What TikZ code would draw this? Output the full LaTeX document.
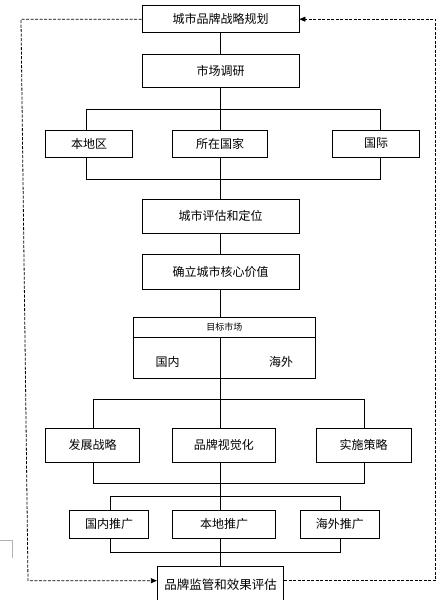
\documentclass[tikz,border=0pt]{standalone}
\usepackage{fontspec}
\setmainfont{Noto Sans CJK SC}
\usetikzlibrary{arrows.meta}
\begin{document}
\begin{tikzpicture}[x=1pt,y=-1pt,
  ln/.style={line width=0.8pt, draw=black},
  box/.style n args={2}{draw=black, line width=0.8pt, fill=white, inner sep=0pt,
    minimum width=#1pt, minimum height=#2pt, font=\fontsize{12}{14}\selectfont},
  lbl/.style={inner sep=0pt, font=\fontsize{12}{14}\selectfont},
  dsh/.style={line width=0.8pt, dash pattern=on 3pt off 1.5pt},
  tip/.style={-{Triangle[length=6pt,width=5pt]}}]
\useasboundingbox (0,0) rectangle (446,600);
\clip (0,0) rectangle (446,600);
\fill[white] (0,0) rectangle (446,600);

% nodes
\node[box={157}{27}] (b1) at (220.5,19.2) {城市品牌战略规划};
\node[box={157}{33}] (b2) at (220.5,70.8) {市场调研};
\node[box={86.6}{27}] (r1) at (89,143.5) {本地区};
\node[box={94.6}{27}] (r2) at (220,143.5) {所在国家};
\node[box={87.4}{27}] (r3) at (376,143.5) {国际};
\node[box={157}{34}] (b3) at (220.5,216.3) {城市评估和定位};
\node[box={157}{35.3}] (b4) at (220.5,271.7) {确立城市核心价值};
\node[box={182}{61}] (tm) at (224.3,347.8) {};
\node[lbl, font=\fontsize{9}{10}\selectfont] (tmh) at (224.3,327.3) {目标市场};
\node[lbl] (tmn) at (167.5,362) {国内};
\node[lbl] (tmo) at (281,362) {海外};
\node[box={93.6}{33.7}] (s1) at (92.5,445.2) {发展战略};
\node[box={102.3}{33.7}] (s2) at (223.85,445.2) {品牌视觉化};
\node[box={95.3}{33.7}] (s3) at (363.65,445.2) {实施策略};
\node[box={79.4}{27.3}] (p1) at (109,524.35) {国内推广};
\node[box={102.6}{27.3}] (p2) at (224,524.35) {本地推广};
\node[box={79}{27.3}] (p3) at (339.8,524.35) {海外推广};
\node[box={126.4}{39}, font=\fontsize{12.5}{14}\selectfont] (b5) at (220.5,586) {\raisebox{3pt}{品牌监管和效果评估}};

% coordinates of bars
\coordinate (m1) at (220.5,109);   \coordinate (m1l) at (86,109);    \coordinate (m1r) at (380,109);
\coordinate (m2) at (220.5,179);   \coordinate (m2l) at (86,179);    \coordinate (m2r) at (380,179);
\coordinate (tmd) at (220.5,337.3);
\coordinate (m3) at (220.5,399.3); \coordinate (m3l) at (93.3,399.3); \coordinate (m3r) at (364,399.3);
\coordinate (m4) at (220.5,483);   \coordinate (m4l) at (93.3,483);   \coordinate (m4r) at (364,483);
\coordinate (m5) at (220.5,496.7); \coordinate (m5l) at (110,496.7);  \coordinate (m5r) at (340,496.7);
\coordinate (m6) at (220.5,552.7); \coordinate (m6l) at (110,552.7);  \coordinate (m6r) at (340,552.7);

% connectors
\draw[ln] (b1.south) -- (b2.north);
\draw[ln] (b2.south) -- (m1);
\draw[ln] (m1l |- r1.north) -- (m1l) -- (m1r) -- (m1r |- r3.north);
\draw[ln] (m1) -- (m1 |- r2.north);
\draw[ln] (m2l |- r1.south) -- (m2l) -- (m2r) -- (m2r |- r3.south);
\draw[ln] (m2 |- r2.south) -- (m2) -- (b3.north);
\draw[ln] (b3.south) -- (b4.north);
\draw[ln] (b4.south) -- (tm.north -| b4.south);
\draw[ln] (tm.west |- tmd) -- (tm.east |- tmd);
\draw[ln] (tmd) -- (m3);
\draw[ln] (m3l |- s1.north) -- (m3l) -- (m3r) -- (m3r |- s3.north);
\draw[ln] (m3) -- (m3 |- s2.north);
\draw[ln] (m4l |- s1.south) -- (m4l) -- (m4r) -- (m4r |- s3.south);
\draw[ln] (m4 |- s2.south) -- (m4) -- (m5);
\draw[ln] (m5l |- p1.north) -- (m5l) -- (m5r) -- (m5r |- p3.north);
\draw[ln] (m5) -- (m5 |- p2.north);
\draw[ln] (m6l |- p1.south) -- (m6l) -- (m6r) -- (m6r |- p3.south);
\draw[ln] (m6 |- p2.south) -- (m6) -- (b5.north);

% dashed feedback loop
\coordinate (tl) at (21,19.2);
\coordinate (bl) at (28,580.7);
\coordinate (br) at (435.7,580.7);
\coordinate (tr) at (435.7,19.2);
\draw[dsh, tip] (b1.west) -- (tl) -- (bl) -- (b5.west |- bl);
\draw[dsh, tip] (b5.east |- br) -- (br) -- (tr) -- (b1.east);

% page corner mark
\draw[gray!60, line width=0.6pt] (0,540.7) -- (12.7,540.7) -- (12.7,558);
\end{tikzpicture}
\end{document}
